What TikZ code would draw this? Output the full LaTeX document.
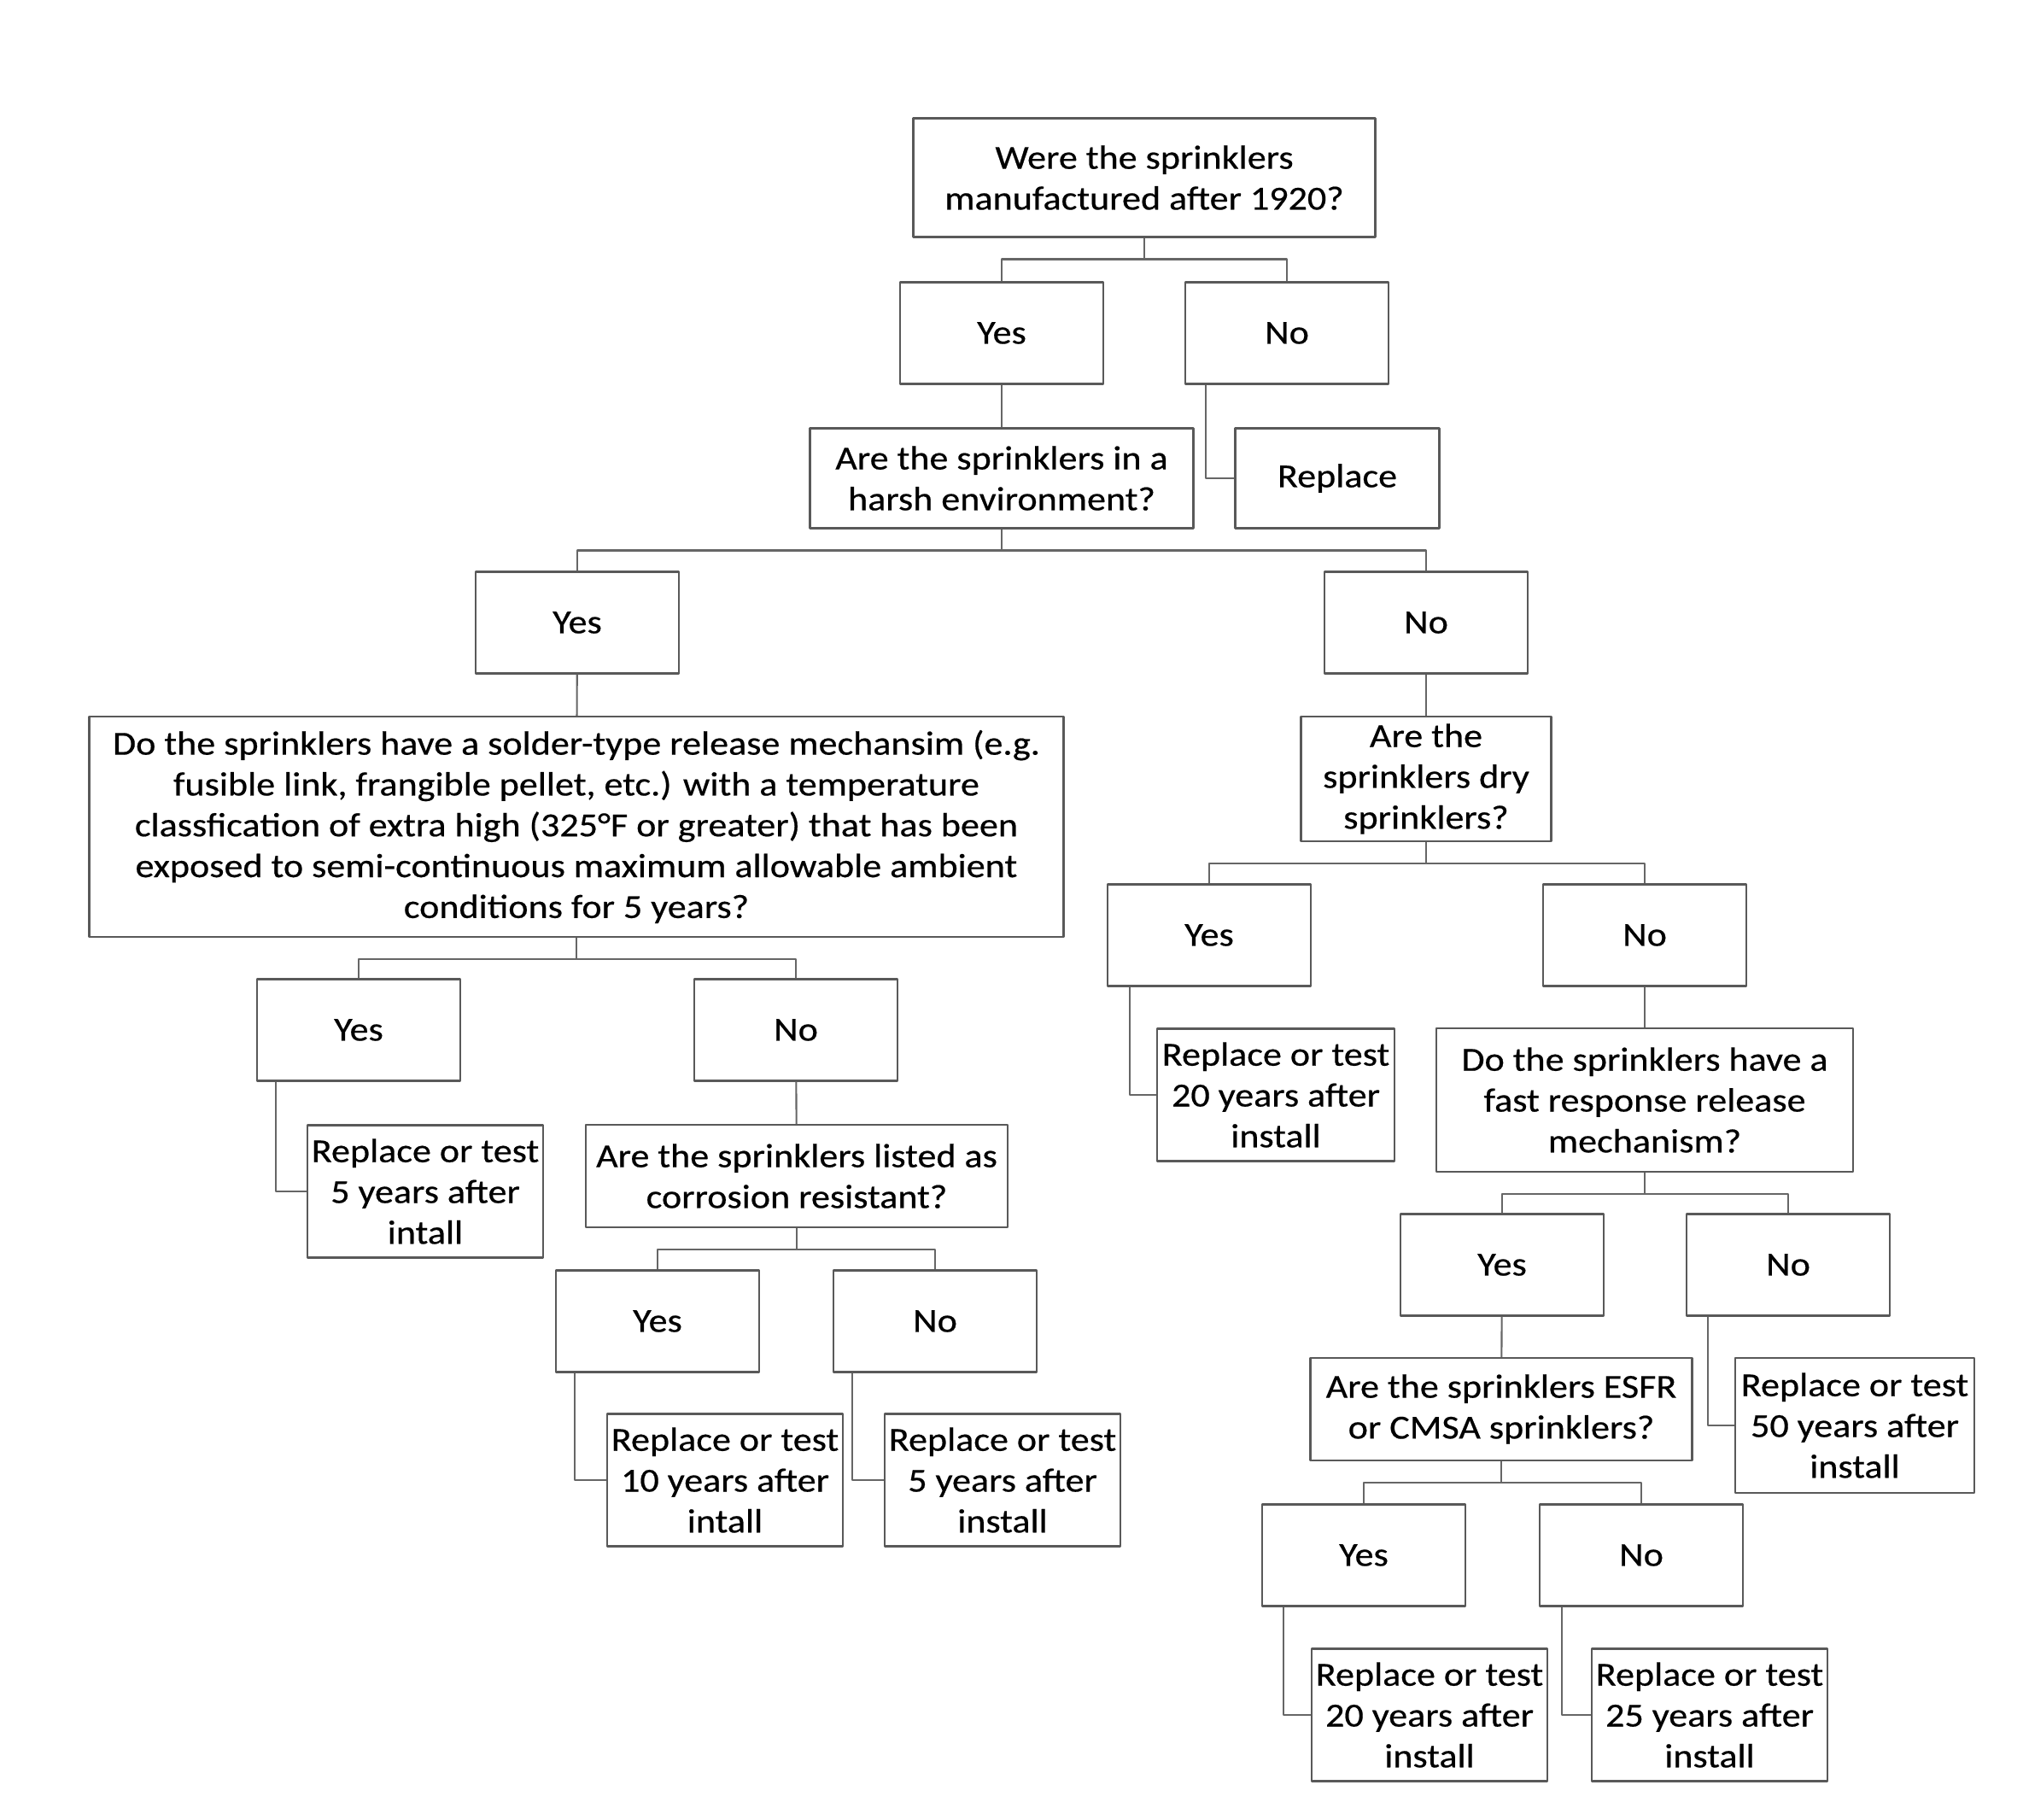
\documentclass[tikz,border=0pt]{standalone}
\usepackage{fontspec}
\setmainfont{Carlito}[FakeStretch=1.12,FakeBold=0.5]
\begin{document}
\begin{tikzpicture}[line join=round,
  box/.style={draw=black!65, line width=0.6pt, align=center, inner sep=0pt},
  yn/.style={box, minimum width=2.38cm, minimum height=1.19cm},
  res/.style={box, minimum width=2.76cm, minimum height=1.55cm},
  link/.style={draw=black!60, line width=0.6pt},
  font=\fontsize{11.2}{13.6}\selectfont]
  \useasboundingbox (0,0) rectangle (23.69,-21.31);
  \def\bar{0.25}
  % top question
  \node[box, minimum width=5.41cm, minimum height=1.39cm] (q1) at (13.40,-2.08) {Were the sprinklers\\manufactured after 1920?};
  \node[yn] (yes1) at (11.73,-3.90) {Yes};
  \node[yn] (no1) at (15.07,-3.90) {No};
  \node[box, minimum width=4.49cm, minimum height=1.17cm] (q2) at (11.73,-5.60) {Are the sprinklers in a\\harsh environment?};
  \node[box, minimum width=2.39cm, minimum height=1.17cm] (rep) at (15.66,-5.60) {Replace};
  \draw[link] (yes1.north) |- ([yshift=-\bar cm]q1.south) -- (q1.south);
  \draw[link] (no1.north) |- ([yshift=-\bar cm]q1.south);
  \draw[link] (yes1) -- (q2);
  \draw[link] ([xshift=0.25cm]no1.south west) |- (rep.west);
  % harsh environment
  \node[yn] (yes2) at (6.76,-7.29) {Yes};
  \node[yn] (no2) at (16.70,-7.29) {No};
  \draw[link] (yes2.north) |- ([yshift=-\bar cm]q2.south) -- (q2.south);
  \draw[link] (no2.north) |- ([yshift=-\bar cm]q2.south);
  % left branch
  \node[box, minimum width=11.41cm, minimum height=2.58cm] (q3) at (6.75,-9.68) {Do the sprinklers have a solder-type release mechansim (e.g.\\fusible link, frangible pellet, etc.) with a temperature\\classfication of extra high (325°F or greater) that has been\\exposed to semi-continuous maximum allowable ambient\\conditions for 5 years?};
  \draw[link] (yes2) -- (q3);
  \node[yn] (yes3) at (4.20,-12.06) {Yes};
  \node[yn] (no3) at (9.32,-12.06) {No};
  \draw[link] (yes3.north) |- ([yshift=-\bar cm]q3.south) -- (q3.south);
  \draw[link] (no3.north) |- ([yshift=-\bar cm]q3.south);
  \node[res] (r1) at (4.98,-13.95) {Replace or test\\5 years after\\intall};
  \draw[link] ([xshift=0.23cm]yes3.south west) |- (r1.west);
  \node[box, minimum width=4.94cm, minimum height=1.20cm] (q4) at (9.33,-13.77) {Are the sprinklers listed as\\corrosion resistant?};
  \draw[link] (no3) -- (q4);
  \node[yn] (yes4) at (7.70,-15.47) {Yes};
  \node[yn] (no4) at (10.95,-15.47) {No};
  \draw[link] (yes4.north) |- ([yshift=-\bar cm]q4.south) -- (q4.south);
  \draw[link] (no4.north) |- ([yshift=-\bar cm]q4.south);
  \node[res] (r2) at (8.49,-17.33) {Replace or test\\10 years after\\intall};
  \node[res] (r3) at (11.74,-17.33) {Replace or test\\5 years after\\install};
  \draw[link] ([xshift=0.23cm]yes4.south west) |- (r2.west);
  \draw[link] ([xshift=0.23cm]no4.south west) |- (r3.west);
  % right branch
  \node[box, minimum width=2.93cm, minimum height=1.46cm] (q5) at (16.70,-9.12) {Are the\\sprinklers dry\\sprinklers?};
  \draw[link] (no2) -- (q5);
  \node[yn] (yes5) at (14.16,-10.95) {Yes};
  \node[yn] (no5) at (19.26,-10.95) {No};
  \draw[link] (yes5.north) |- ([yshift=-\bar cm]q5.south) -- (q5.south);
  \draw[link] (no5.north) |- ([yshift=-\bar cm]q5.south);
  \node[res, minimum width=2.78cm] (r4) at (14.94,-12.82) {Replace or test\\20 years after\\install};
  \draw[link] ([xshift=0.27cm]yes5.south west) |- (r4.west);
  \node[box, minimum width=4.88cm, minimum height=1.68cm] (q6) at (19.26,-12.88) {Do the sprinklers have a\\fast response release\\mechanism?};
  \draw[link] (no5) -- (q6);
  \node[yn] (yes6) at (17.59,-14.81) {Yes};
  \node[yn] (no6) at (20.94,-14.81) {No};
  \draw[link] (yes6.north) |- ([yshift=-\bar cm]q6.south) -- (q6.south);
  \draw[link] (no6.north) |- ([yshift=-\bar cm]q6.south);
  \node[box, minimum width=4.47cm, minimum height=1.20cm] (q7) at (17.58,-16.50) {Are the sprinklers ESFR\\or CMSA sprinklers?};
  \draw[link] (yes6) -- (q7);
  \node[res, minimum width=2.80cm, minimum height=1.58cm] (r5) at (21.72,-16.69) {Replace or test\\50 years after\\install};
  \draw[link] ([xshift=0.26cm]no6.south west) |- (r5.west);
  \node[yn] (yes7) at (15.97,-18.21) {Yes};
  \node[yn] (no7) at (19.22,-18.21) {No};
  \draw[link] (yes7.north) |- ([yshift=-\bar cm]q7.south) -- (q7.south);
  \draw[link] (no7.north) |- ([yshift=-\bar cm]q7.south);
  \node[res] (r6) at (16.74,-20.08) {Replace or test\\20 years after\\install};
  \node[res] (r7) at (20.02,-20.08) {Replace or test\\25 years after\\install};
  \draw[link] ([xshift=0.26cm]yes7.south west) |- (r6.west);
  \draw[link] ([xshift=0.27cm]no7.south west) |- (r7.west);
\end{tikzpicture}
\end{document}
